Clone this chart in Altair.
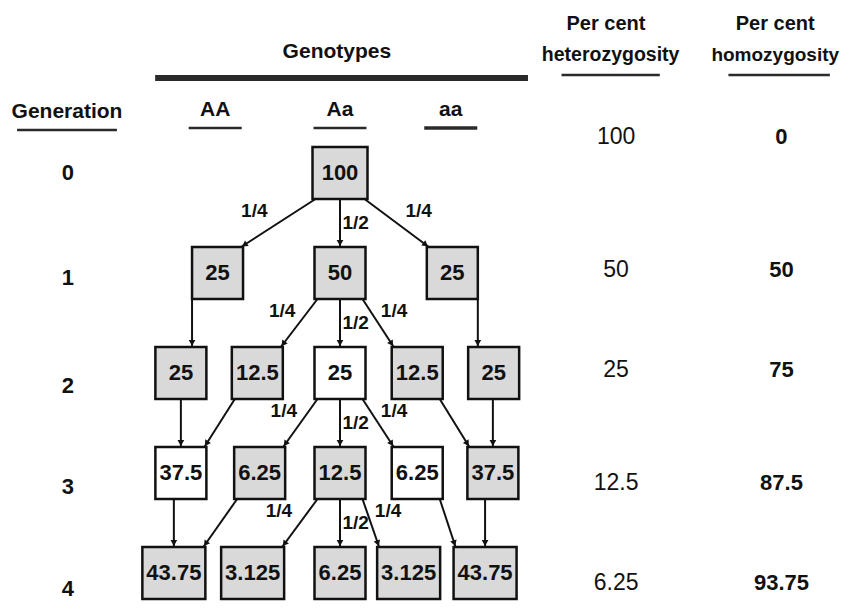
import math
import altair as alt
import pandas as pd

# ---------------- data ----------------
generation = [0, 1, 2, 3, 4]
genotype_cols = ["AA", "Aa", "aa"]
per_cent_heterozygosity = ["100", "50", "25", "12.5", "6.25"]
per_cent_homozygosity = ["0", "50", "75", "87.5", "93.75"]

node_gen = [0, 1, 1, 1, 2, 2, 2, 2, 2, 3, 3, 3, 3, 3, 4, 4, 4, 4, 4]
node_value = ["100", "25", "50", "25", "25", "12.5", "25", "12.5", "25",
              "37.5", "6.25", "12.5", "6.25", "37.5",
              "43.75", "3.125", "6.25", "3.125", "43.75"]

edge_from = [0, 0, 0, 1, 2, 2, 2, 3, 4, 5, 6, 6, 6, 7, 8, 9, 10, 11, 11, 11, 12, 13]
edge_to = [1, 2, 3, 4, 5, 6, 7, 8, 9, 9, 10, 11, 12, 13, 13, 14, 14, 15, 16, 17, 18, 18]
edge_label = ["1/4", "1/2", "1/4", "", "1/4", "1/2", "1/4", "",
              "", "", "1/4", "1/2", "1/4", "", "",
              "", "", "1/4", "1/2", "1/4", "", ""]

# ---------------- layout (grid units: column slot, generation row) ----------------
node_slot = [0.0, -1.57, 0.0, 1.44, -2.04, -1.06, 0.0, 0.99, 1.97,
             -2.04, -1.03, 0.0, 0.99, 1.96, -2.13, -1.12, 0.0, 0.88, 1.86]
node_shaded = [1, 1, 1, 1, 1, 1, 0, 1, 1, 0, 1, 1, 0, 1, 1, 1, 1, 1, 1]

W, H = 834, 593
S, G = 78.0, 100.0          # px per slot, px per generation
X_DOM = [-332 / S, (W - 332) / S]
Y_DOM = [-165 / G, (H - 165) / G]
HH = 26.0

gen_col_x = -3.5
genotype_x = [-1.6, 0.0, 1.42]
het_x, hom_x = 3.47, 5.58
het_val_x, hom_val_x = 3.54, 5.66
gen_label_y = [0.0, 1.05, 2.13, 3.14, 4.16]
pct_row_y = [-0.36, 0.97, 1.97, 3.1, 4.1]

FONT = "Liberation Sans, Arial, Helvetica, sans-serif"
INK = "#111111"

xs = alt.Scale(domain=X_DOM, range=[0, W], nice=False, zero=False)
ys = alt.Scale(domain=Y_DOM, range=[0, H], nice=False, zero=False)


def X(f):
    return alt.X(f, type="quantitative", scale=xs, axis=None)


def Y(f):
    return alt.Y(f, type="quantitative", scale=ys, axis=None)


# ---------------- nodes ----------------
rows = []
for i, (g, v, s, sh) in enumerate(zip(node_gen, node_value, node_slot, node_shaded)):
    hw = 27.5 if v == "100" else (31.5 if len(v) >= 5 else 25.5)
    rows.append(dict(id=i, gen=g, value=v, slot=s, shaded=sh,
                     l=s - hw / S, r=s + hw / S, t=g - HH / G, b=g + HH / G,
                     fill="#d9d9d9" if sh else "#ffffff"))
nodes = pd.DataFrame(rows)

# ---------------- edges ----------------
erows, arows, lrows = [], [], []
for f, t, lab in zip(edge_from, edge_to, edge_label):
    p, c = nodes.loc[f], nodes.loc[t]
    y1, y2 = p.b, c.t
    if max(p.l, c.l) < min(p.r, c.r):
        x = min(max(c.slot, p.l), p.r)
        x1 = x2 = x
    elif c.slot < p.slot:
        x1, x2 = p.l + 3 / S, c.r - 2 / S
    else:
        x1, x2 = p.r - 3 / S, c.l + 2 / S
    erows.append(dict(x1=x1, y1=y1, x2=x2, y2=y2))
    dx, dy = (x2 - x1) * S, (y2 - y1) * G
    ln = math.hypot(dx, dy)
    ang = (math.degrees(math.atan2(-dx, dy)) + 360) % 360
    arows.append(dict(x=x2 - 4 * dx / ln / S, y=y2 - 4 * dy / ln / G, angle=ang))
    if lab:
        if lab == "1/2":
            lx, ly = p.slot + 0.2, p.gen + 0.5
        else:
            lx, ly = p.slot + 0.7 * (c.slot - p.slot), p.gen + 0.38
        lrows.append(dict(x=lx, y=ly, text=lab))
edges = pd.DataFrame(erows)
arrows = pd.DataFrame(arows)
elabels = pd.DataFrame(lrows)

# ---------------- headers ----------------
hdr = [
    dict(text="Genotypes", x=-0.04, y=-1.21, size=21),
    dict(text="Generation", x=gen_col_x, y=-0.61, size=21),
    dict(text="Per cent", x=het_x - 0.06, y=-1.49, size=20),
    dict(text="heterozygosity", x=het_x, y=-1.18, size=19.5),
    dict(text="Per cent", x=hom_x, y=-1.49, size=20),
    dict(text="homozygosity", x=hom_x, y=-1.18, size=19),
]
for gx, gt in zip(genotype_x, genotype_cols):
    hdr.append(dict(text=gt, x=gx, y=-0.63, size=21))
for g, gy in zip(generation, gen_label_y):
    hdr.append(dict(text=str(g), x=gen_col_x + 0.01, y=gy, size=22))
headers = pd.DataFrame(hdr)

het_df = pd.DataFrame(dict(text=per_cent_heterozygosity, y=pct_row_y, x=het_val_x))
hom_df = pd.DataFrame(dict(text=per_cent_homozygosity, y=pct_row_y, x=hom_val_x))

ul = [
    dict(x=-2.37, x2=2.41, y=-0.95, w=6.0),                       # Genotypes bar
    dict(x=gen_col_x - 0.64, x2=gen_col_x + 0.64, y=-0.43, w=2.5),
    dict(x=het_x - 0.63, x2=het_x + 0.63, y=-0.98, w=2.5),
    dict(x=hom_x - 0.6, x2=hom_x + 0.7, y=-0.98, w=2.5),
]
for gx, gt in zip(genotype_x, genotype_cols):
    ul.append(dict(x=gx - 0.34, x2=gx + 0.34, y=-0.45, w=3.5 if gt == "aa" else 2.5))
underlines = pd.DataFrame(ul)

# ---------------- layers ----------------
edge_layer = alt.Chart(edges).mark_rule(color=INK, strokeWidth=2).encode(
    x=X("x1"), y=Y("y1"), x2="x2", y2="y2")

arrow_layer = alt.Chart(arrows).mark_point(
    shape="triangle-down", filled=True, color=INK, size=45, opacity=1).encode(
    x=X("x"), y=Y("y"), angle=alt.Angle("angle:Q", scale=None))

box_layer = alt.Chart(nodes).mark_rect(stroke=INK, strokeWidth=2.5).encode(
    x=X("l"), x2="r", y=Y("t"), y2="b",
    fill=alt.Fill("fill:N", scale=None))

box_text = alt.Chart(nodes).mark_text(
    font=FONT, fontSize=22, fontWeight="bold", color=INK,
    baseline="middle", align="center").encode(
    x=X("slot"), y=Y("gen"), text="value:N")

label_layer = alt.Chart(elabels).mark_text(
    font=FONT, fontSize=19, fontWeight="bold", color=INK,
    baseline="middle", align="center").encode(
    x=X("x"), y=Y("y"), text="text:N")

header_layer = alt.Chart(headers).mark_text(
    font=FONT, fontWeight="bold", color=INK, baseline="middle", align="center").encode(
    x=X("x"), y=Y("y"), text="text:N", size=alt.Size("size:Q", scale=None))

het_layer = alt.Chart(het_df).mark_text(
    font=FONT, fontSize=23, color=INK, baseline="middle", align="center").encode(
    x=X("x"), y=Y("y"), text="text:N")

hom_layer = alt.Chart(hom_df).mark_text(
    font=FONT, fontSize=22, fontWeight="bold", color=INK,
    baseline="middle", align="center").encode(
    x=X("x"), y=Y("y"), text="text:N")

ul_layer = alt.Chart(underlines).mark_rule(color="#2a2a2a").encode(
    x=X("x"), x2="x2", y=Y("y"), size=alt.Size("w:Q", scale=None))

chart = alt.layer(
    edge_layer, box_layer, box_text, arrow_layer, label_layer,
    header_layer, het_layer, hom_layer, ul_layer
).properties(
    width=W, height=H, padding=0, autosize=alt.AutoSizeParams(type="none"),
    background="white"
).configure_view(stroke=None)

chart.save("out.html", embed_options={"renderer": "svg", "actions": False})
